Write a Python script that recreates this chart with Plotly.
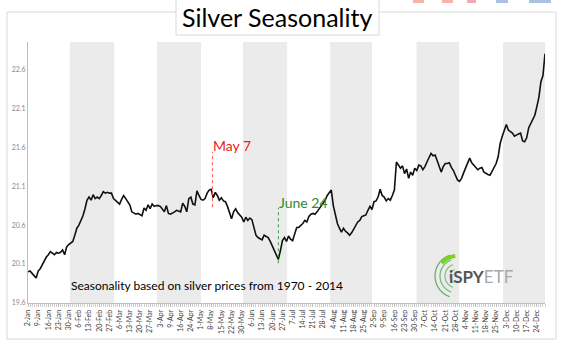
import plotly.graph_objects as go
import math

# ---------------- data ----------------
silver_values = [
    20.00, 20.01, 19.98, 19.95, 19.92, 20.01, 20.04, 20.09, 20.15, 20.19,
    20.22, 20.26, 20.24, 20.22, 20.25, 20.24, 20.25, 20.28, 20.22, 20.32,
    20.35, 20.37, 20.39, 20.47, 20.56, 20.60, 20.66, 20.72, 20.81, 20.92,
    20.96, 20.92, 20.99, 20.94, 20.96, 20.94, 20.98, 21.03, 21.01, 21.02,
    21.01, 21.01, 20.94, 20.92, 20.90, 20.87, 20.93, 20.98, 20.94, 20.89,
    20.86, 20.77, 20.75, 20.74, 20.75, 20.74, 20.72, 20.82, 20.79, 20.86,
    20.81, 20.87, 20.84, 20.85, 20.85, 20.84, 20.81, 20.77, 20.85, 20.75,
    20.74, 20.75, 20.77, 20.79, 20.78, 20.77, 20.88, 20.84, 20.77, 20.94,
    20.96, 20.87, 20.86, 21.04, 20.98, 20.93, 20.92, 20.94, 21.01, 21.05,
    21.06, 20.95, 21.02, 20.98, 20.92, 20.95, 20.91, 20.90, 20.84, 20.77,
    20.68, 20.77, 20.81, 20.76, 20.73, 20.70, 20.64, 20.70, 20.66, 20.69,
    20.67, 20.56, 20.47, 20.44, 20.43, 20.41, 20.47, 20.46, 20.44, 20.39,
    20.33, 20.29, 20.22, 20.16, 20.27, 20.40, 20.44, 20.39, 20.46, 20.42,
    20.40, 20.50, 20.57, 20.57, 20.59, 20.62, 20.66, 20.64, 20.71, 20.74,
    20.75, 20.74, 20.77, 20.81, 20.84, 20.88, 20.92, 20.98, 21.02, 21.05,
    20.85, 20.71, 20.62, 20.56, 20.51, 20.56, 20.52, 20.50, 20.47, 20.50,
    20.55, 20.60, 20.64, 20.66, 20.71, 20.72, 20.73, 20.79, 20.84, 20.80,
    20.90, 20.91, 20.96, 21.06, 20.98, 20.96, 20.91, 20.94, 20.92, 20.98,
    21.05, 21.41, 21.37, 21.33, 21.36, 21.26, 21.32, 21.20, 21.28, 21.24,
    21.33, 21.30, 21.37, 21.36, 21.31, 21.35, 21.41, 21.47, 21.52, 21.49,
    21.50, 21.43, 21.36, 21.28, 21.35, 21.39, 21.39, 21.40, 21.34, 21.30,
    21.24, 21.18, 21.16, 21.20, 21.27, 21.33, 21.41, 21.46, 21.40, 21.37,
    21.34, 21.31, 21.33, 21.34, 21.28, 21.26, 21.25, 21.24, 21.29, 21.34,
    21.39, 21.48, 21.65, 21.74, 21.83, 21.89, 21.82, 21.80, 21.78, 21.74,
    21.76, 21.77, 21.78, 21.68, 21.67, 21.72, 21.85, 21.90, 21.96, 22.01,
    22.12, 22.24, 22.44, 22.52, 22.80,
]
trading_day = list(range(len(silver_values)))

date_labels = [
    "2-Jan", "9-Jan", "16-Jan", "23-Jan", "30-Jan", "6-Feb", "13-Feb", "20-Feb",
    "27-Feb", "6-Mar", "13-Mar", "20-Mar", "27-Mar", "3-Apr", "9-Apr", "16-Apr",
    "24-Apr", "1-May", "8-May", "15-May", "22-May", "30-May", "6-Jun", "13-Jun",
    "20-Jun", "27-Jun", "7-Jul", "14-Jul", "21-Jul", "28-Jul", "4-Aug", "11-Aug",
    "18-Aug", "25-Aug", "2-Sep", "9-Sep", "16-Sep", "23-Sep", "30-Sep", "7-Oct",
    "14-Oct", "21-Oct", "28-Oct", "4-Nov", "11-Nov", "18-Nov", "25-Nov", "3-Dec",
    "10-Dec", "17-Dec", "24-Dec",
]
label_every = 5
label_days = [i * label_every for i in range(len(date_labels))]

shaded_months = ["Feb", "Apr", "Jun", "Aug", "Oct", "Dec"]
shaded_start_day = [20.6, 63.4, 105.6, 148.4, 190.9, 233.4]
shaded_end_day = [42.3, 85.0, 127.3, 169.0, 211.8, 254.0]

y_ticks = [19.6, 20.1, 20.6, 21.1, 21.6, 22.1, 22.6]

peak_day, peak_label = 90.6, "May 7"
trough_day, trough_label = 123.0, "June 24"

# ---------------- layout helpers ----------------
W, H = 569, 364
PL, PR, PT, PB = 28, 545, 42, 303  # plot area in pixels


def px(xp):
    return (xp - PL) / (PR - PL)


def py(yp):
    return (PB - yp) / (PB - PT)


FONT = "Lato, 'Open Sans', sans-serif"

fig = go.Figure()
fig.add_trace(go.Scatter(
    x=trading_day, y=silver_values, mode="lines",
    line=dict(color="#111111", width=1.6), hoverinfo="skip",
))

shapes = []
for s, e in zip(shaded_start_day, shaded_end_day):
    shapes.append(dict(type="rect", xref="x", yref="paper", x0=s, x1=e, y0=0, y1=1,
                       fillcolor="#ebebeb", line=dict(width=0), layer="below"))
# outer chart border
shapes.append(dict(type="rect", xref="paper", yref="paper",
                   x0=px(7), x1=px(556), y0=py(339), y1=py(12),
                   line=dict(color="#d9d9d9", width=1), fillcolor="rgba(0,0,0,0)", layer="below"))
# title box
shapes.append(dict(type="rect", xref="paper", yref="paper",
                   x0=px(176), x1=px(379), y0=py(35), y1=py(-2),
                   line=dict(color="#d9d9d9", width=1), fillcolor="white", layer="above"))
# annotation guide lines
shapes.append(dict(type="line", xref="x", yref="y", x0=peak_day, x1=peak_day,
                   y0=20.83, y1=21.54, line=dict(color="#ff5050", width=1, dash="dot")))
shapes.append(dict(type="line", xref="x", yref="y", x0=trough_day, x1=trough_day,
                   y0=20.11, y1=20.82, line=dict(color="#3a9a3a", width=1, dash="dot")))

# partially visible page icons at the top right edge
for x0, x1, col in [(413, 424, "#f6b3a6"), (442, 453, "#f6b3a6"), (467, 476, "#f4a8b4"),
                    (496, 508, "#a9c2e2"), (529, 551, "#a9c2e2")]:
    shapes.append(dict(type="rect", xref="paper", yref="paper", x0=px(x0), x1=px(x1),
                       y0=py(3), y1=py(-1), fillcolor=col, line=dict(width=0), layer="above"))


# logo: concentric green arcs
def arc_path(cx, cy, r, a0, a1, n=24):
    pts = []
    for k in range(n + 1):
        a = math.radians(a0 + (a1 - a0) * k / n)
        pts.append((px(cx + r * math.cos(a)), py(cy - r * math.sin(a))))
    return "M " + " L ".join(f"{x:.5f},{y:.5f}" for x, y in pts)


logo_cx, logo_cy = 457, 276
for r, col, w in [(7, "#8cc98c", 1.2), (12, "#7cc27c", 1.2), (17, "#6bb86b", 1.2), (22, "#5aae5a", 1.2)]:
    shapes.append(dict(type="path", xref="paper", yref="paper", path=arc_path(logo_cx, logo_cy, r, 110, 250),
                       line=dict(color=col, width=w), layer="above"))
shapes.append(dict(type="path", xref="paper", yref="paper",
                   path=arc_path(logo_cx, logo_cy, 20, 95, 140),
                   line=dict(color="#7ed321", width=4), layer="above"))

annotations = [
    dict(text="Silver Seasonality", xref="paper", yref="paper", x=px(277), y=py(17),
         showarrow=False, font=dict(family=FONT, size=25, color="black"),
         xanchor="center", yanchor="middle"),
    dict(text=peak_label, xref="x", yref="y", x=peak_day - 0.6, y=21.62,
         showarrow=False, font=dict(family=FONT, size=14, color="#ee1c1c"),
         xanchor="left", yanchor="middle"),
    dict(text=trough_label, xref="x", yref="y", x=trough_day - 0.6, y=20.89,
         showarrow=False, font=dict(family=FONT, size=14, color="#2e8b2e"),
         xanchor="left", yanchor="middle"),
    dict(text="Seasonality based on silver prices from 1970 - 2014", xref="paper", yref="paper",
         x=px(69), y=py(285), showarrow=False, font=dict(family=FONT, size=12, color="black"),
         xanchor="left", yanchor="middle"),
    dict(text="<b>iSPY</b><span style='color:#a8a8a8'>ETF</span>", xref="paper", yref="paper",
         x=px(447), y=py(276), showarrow=False, font=dict(family=FONT, size=17, color="#555555"),
         xanchor="left", yanchor="middle"),
]

fig.update_layout(
    width=W, height=H,
    margin=dict(l=PL, r=W - PR, t=PT, b=H - PB, pad=0, autoexpand=False),
    paper_bgcolor="white", plot_bgcolor="white",
    showlegend=False,
    shapes=shapes, annotations=annotations,
    font=dict(family=FONT),
    xaxis=dict(
        range=[0, len(silver_values) - 1], tickmode="array", tickvals=label_days, ticktext=date_labels,
        tickangle=-90, tickfont=dict(family=FONT, size=7, color="#404040"),
        showline=True, linecolor="#bfbfbf", linewidth=1,
        ticks="outside", ticklen=3, tickcolor="#bfbfbf",
        minor=dict(tickmode="linear", tick0=0, dtick=1, ticks="outside", ticklen=3, tickcolor="#cfcfcf"),
        showgrid=False, zeroline=False, fixedrange=True, automargin=False,
    ),
    yaxis=dict(
        range=[19.6, 22.95], tickmode="array", tickvals=y_ticks,
        ticktext=[f"{v:.1f}" for v in y_ticks],
        tickfont=dict(family=FONT, size=7, color="#8a8a8a"),
        showline=True, linecolor="#bfbfbf", linewidth=1, ticks="",
        showgrid=False, zeroline=False, fixedrange=True, automargin=False,
    ),
)

fig.write_html("out.html", config={"displayModeBar": False},
               post_script="document.body.style.margin='0';document.body.style.overflow='hidden';")
